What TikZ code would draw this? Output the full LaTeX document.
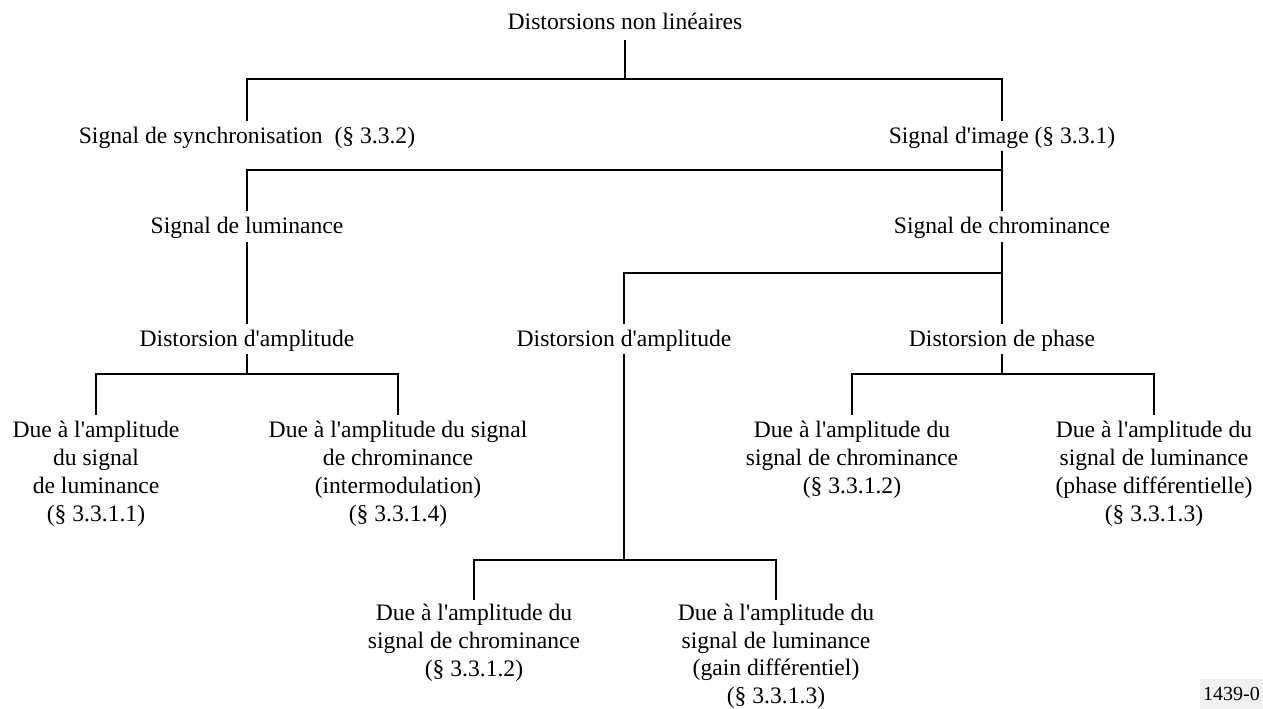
\documentclass[tikz,border=0pt]{standalone}
\usepackage{fontspec}
\setmainfont{Liberation Serif}
\newcommand\apos{\textquotesingle}
\begin{document}
\begin{tikzpicture}[x=1pt,y=-1pt,
  lbl/.style={font=\fontsize{23.6}{28}\selectfont, inner sep=0pt, align=center},
  one/.style={lbl, anchor=base},
  multi/.style={lbl, anchor=north},
  conn/.style={line width=1.1pt, line cap=rect}]
\useasboundingbox (0,0) rectangle (1263,709);
% nodes
\node[one] (root) at (625,30) {Distorsions non linéaires};
\node[one] (sync) at (247,143) {Signal de synchronisation\ \ (§ 3.3.2)};
\node[one] (img) at (1002,143) {Signal d\apos image (§ 3.3.1)};
\node[one] (lum) at (247,233) {Signal de luminance};
\node[one] (chr) at (1002,233) {Signal de chrominance};
\node[one] (ampL) at (247,346) {Distorsion d\apos amplitude};
\node[one] (ampM) at (624,346) {Distorsion d\apos amplitude};
\node[one] (phase) at (1002,346) {Distorsion de phase};
\node[multi] (l1) at (96,421) {Due à l\apos amplitude\\du signal\\de luminance\\(§ 3.3.1.1)};
\node[multi] (l2) at (398,421) {Due à l\apos amplitude du signal\\de chrominance\\(intermodulation)\\(§ 3.3.1.4)};
\node[multi] (r1) at (852,421) {Due à l\apos amplitude du\\signal de chrominance\\(§ 3.3.1.2)};
\node[multi] (r2) at (1154,421) {Due à l\apos amplitude du\\signal de luminance\\(phase différentielle)\\(§ 3.3.1.3)};
\node[multi] (m1) at (474,604) {Due à l\apos amplitude du\\signal de chrominance\\(§ 3.3.1.2)};
\node[multi, font=\fontsize{23.6}{27.6}\selectfont] (m2) at (776,604) {Due à l\apos amplitude du\\signal de luminance\\(gain différentiel)\\(§ 3.3.1.3)};
\node[fill=gray!12, inner xsep=3pt, inner ysep=0pt, minimum height=30pt, anchor=south east, font=\fontsize{20}{22}\selectfont] (fig) at (1263,709) {1439-0};
% connectors
\coordinate (f1) at (root |- 0,79);
\draw[conn] (root |- 0,41) -- (f1);
\draw[conn] (sync |- 0,120) -- (sync |- f1) -- (img |- f1) -- (img |- 0,120);
\coordinate (f2) at (img |- 0,170);
\draw[conn] (img |- 0,152) -- (chr |- 0,210);
\draw[conn] (lum |- 0,210) -- (lum |- f2) -- (f2);
\draw[conn] (lum |- 0,243) -- (ampL |- 0,323);
\coordinate (f3) at (chr |- 0,273);
\draw[conn] (chr |- 0,243) -- (phase |- 0,323);
\draw[conn] (f3) -- (ampM |- f3) -- (ampM |- 0,323);
\coordinate (f4) at (ampL |- 0,374);
\draw[conn] (ampL |- 0,355) -- (f4);
\draw[conn] (l1 |- 0,414) -- (l1 |- f4) -- (l2 |- f4) -- (l2 |- 0,414);
\coordinate (f5) at (phase |- 0,374);
\draw[conn] (phase |- 0,355) -- (f5);
\draw[conn] (r1 |- 0,414) -- (r1 |- f5) -- (r2 |- f5) -- (r2 |- 0,414);
\coordinate (f6) at (ampM |- 0,560);
\draw[conn] (ampM |- 0,355) -- (f6);
\draw[conn] (m1 |- 0,599) -- (m1 |- f6) -- (m2 |- f6) -- (m2 |- 0,599);
\end{tikzpicture}
\end{document}
